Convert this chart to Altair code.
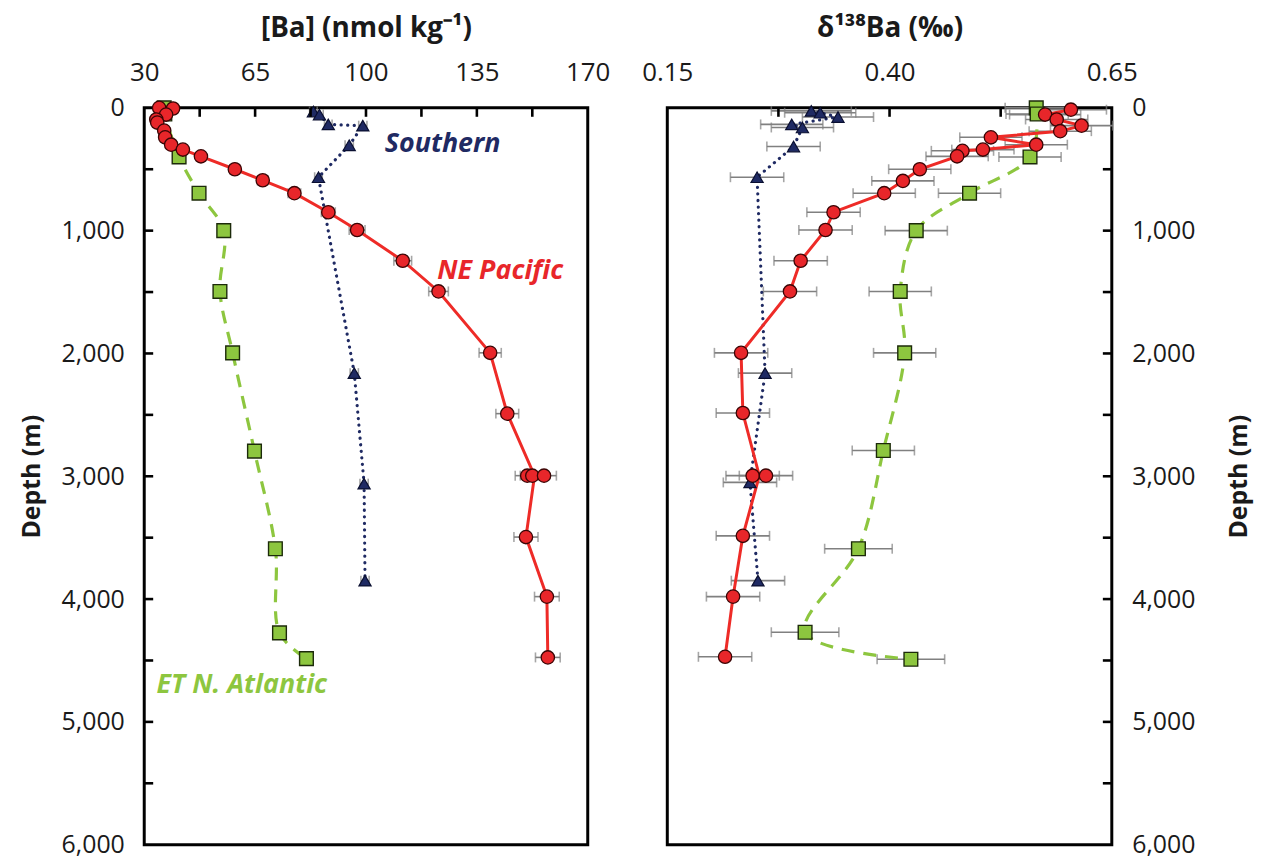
import altair as alt
import pandas as pd

# ---------------- left panel: [Ba] (nmol kg-1) ----------------
pac_depth_a = [0, 5, 55, 95, 120, 185, 240, 300, 340, 395, 500, 590, 695, 850, 995, 1245,
               1495, 1995, 2490, 2995, 2995, 2995, 3495, 3980, 4475]
pac_ba = [34.7, 39.1, 36.9, 33.8, 34.1, 36.3, 36.6, 38.5, 42.2, 47.9, 58.6, 67.4, 77.4, 88.1,
          97.2, 111.6, 122.9, 139.2, 144.6, 150.9, 152.5, 156.2, 150.5, 157.1, 157.4]
pac_ba_err = [0.9, 1.0, 0.9, 0.9, 0.9, 0.9, 0.9, 1.0, 1.1, 1.2, 1.5, 1.7, 2.0, 2.2, 2.5, 2.8,
              3.1, 3.5, 3.6, 3.8, 3.8, 3.9, 3.8, 3.9, 3.9]

sou_depth_a = [30, 55, 135, 145, 305, 565, 2160, 3060, 3850]
sou_ba = [83.4, 85.3, 88.1, 99.0, 94.7, 85.0, 96.3, 99.4, 99.7]
sou_ba_err = [1.2, 1.2, 1.2, 1.3, 1.3, 1.2, 1.3, 1.3, 1.3]

atl_depth_a = [0, 50, 400, 695, 1000, 1495, 1995, 2795, 3590, 4275, 4485]
atl_ba = [36.3, 36.5, 41.0, 47.3, 55.1, 53.9, 57.9, 64.8, 71.4, 72.7, 81.2]
atl_ba_err = [0.5, 0.5, 0.6, 0.7, 0.8, 0.8, 0.9, 1.0, 1.1, 1.1, 1.2]

# ---------------- right panel: d138Ba (permil) ----------------
pac_depth_d = [15, 55, 95, 145, 190, 240, 300, 340, 350, 395, 500, 595, 695, 850, 995, 1245,
               1495, 1995, 2485, 2995, 2995, 3485, 3980, 4470]
pac_d138 = [0.604, 0.575, 0.588, 0.616, 0.592, 0.514, 0.565, 0.505, 0.482, 0.476, 0.434, 0.415,
            0.394, 0.337, 0.328, 0.300, 0.288, 0.233, 0.235, 0.246, 0.261, 0.235, 0.224, 0.215]
pac_d138_err = [0.04, 0.04, 0.035, 0.035, 0.035, 0.035, 0.035, 0.035, 0.035, 0.035, 0.035, 0.035,
                0.035, 0.03, 0.03, 0.03, 0.03, 0.03, 0.03, 0.03, 0.03, 0.03, 0.03, 0.03]

sou_depth_d = [25, 40, 75, 135, 160, 315, 565, 2160, 3050, 3850]
sou_d138 = [0.312, 0.322, 0.342, 0.290, 0.302, 0.292, 0.251, 0.260, 0.243, 0.252]
sou_d138_err = [0.045, 0.04, 0.04, 0.035, 0.035, 0.03, 0.03, 0.03, 0.03, 0.03]

atl_depth_d = [0, 50, 400, 695, 1000, 1495, 1995, 2790, 3590, 4270, 4490]
atl_d138 = [0.565, 0.566, 0.558, 0.490, 0.430, 0.412, 0.417, 0.393, 0.365, 0.305, 0.424]
atl_d138_err = [0.035, 0.035, 0.035, 0.035, 0.035, 0.035, 0.035, 0.035, 0.038, 0.038, 0.038]

# ---------------- axes ----------------
ba_labels = [30, 65, 100, 135, 170]
ba_minor = [47.5, 65, 82.5, 100, 117.5, 135, 152.5]
d138_labels = [0.15, 0.40, 0.65]
d138_minor = [0.275, 0.40, 0.525]
depth_labels = [0, 1000, 2000, 3000, 4000, 5000, 6000]
depth_minor = [500, 1000, 1500, 2000, 2500, 3000, 3500, 4000, 4500, 5000, 5500]

annot_text = ["Southern", "NE Pacific", "ET N. Atlantic"]
annot_ba = [124.2, 142.4, 60.8]
annot_depth = [298, 1331, 4702]
annot_color = ["#1f2a63", "#e8262a", "#8dc63f"]

RED, RED_EDGE = "#e8262a", "#3a0505"
NAVY, NAVY_EDGE = "#1f2a63", "#0a0f30"
GREEN, GREEN_EDGE = "#8dc63f", "#1c2a0a"
GRAY = "#808080"
FONT = "Open Sans"
W_L, W_R, H = 446, 447, 741


def make_df(depth, val, err):
    return pd.DataFrame({
        "depth": depth, "val": val,
        "lo": [v - e for v, e in zip(val, err)],
        "hi": [v + e for v, e in zip(val, err)],
    })


def caps_df(df):
    return pd.concat([
        pd.DataFrame({"depth": df.depth, "cap": df.lo}),
        pd.DataFrame({"depth": df.depth, "cap": df.hi}),
    ])


def panel(pac, sou, atl, xdomain, xlabels, xminor, xfmt, xtitle, yorient, width, annot=None):
    xscale = alt.Scale(domain=xdomain, nice=False, zero=False)
    xaxis = alt.Axis(orient="top", values=xlabels, format=xfmt, title=xtitle, ticks=False,
                     domain=False, grid=False, labelFlush=False, labelOverlap=False,
                     labelPadding=22, titlePadding=18, titleFontSize=28)
    yscale = alt.Scale(domain=[0, 6000], reverse=True, nice=False, zero=False)
    if yorient == "left":
        yaxis = alt.Axis(orient="left", values=depth_labels, format=",.0f", title="Depth (m)",
                         ticks=False, domain=False, grid=False, labelPadding=20,
                         titlePadding=17, labelOverlap=False, labelFontSize=25,
                         titleFontSize=25)
    else:
        yaxis = alt.Axis(orient="right", values=depth_labels, format=",.0f", title="Depth (m)",
                         ticks=False, domain=False, grid=False, labelPadding=20,
                         titlePadding=32, titleAngle=270, titleBaseline="top",
                         labelOverlap=False, labelFontSize=25, titleFontSize=25)

    def X(f):
        return alt.X(f, type="quantitative", scale=xscale, axis=xaxis)

    Y = alt.Y("depth:Q", scale=yscale, axis=yaxis)

    layers = []
    # error bars
    for df in (atl, sou, pac):
        layers.append(alt.Chart(df).mark_rule(color=GRAY, strokeWidth=1.6).encode(
            x=X("lo"), x2="hi:Q", y=Y))
        layers.append(alt.Chart(caps_df(df)).mark_tick(
            orient="vertical", size=10, thickness=1.6, color=GRAY).encode(x=X("cap"), y=Y))
    # lines
    layers.append(alt.Chart(atl).mark_line(
        color=GREEN, strokeWidth=3.2, strokeDash=[13, 9], interpolate="catmull-rom"
    ).encode(x=X("val"), y=Y, order="depth:Q"))
    layers.append(alt.Chart(sou).mark_line(
        color=NAVY, strokeWidth=3.2, strokeDash=[0.1, 6.5], strokeCap="round"
    ).encode(x=X("val"), y=Y, order="depth:Q"))
    layers.append(alt.Chart(pac).transform_aggregate(
        val="mean(val)", groupby=["depth"]
    ).mark_line(color="#ee2b27", strokeWidth=3).encode(x=X("val"), y=Y, order="depth:Q"))
    # points
    layers.append(alt.Chart(atl).mark_point(
        shape="square", size=190, filled=True, fill=GREEN, stroke=GREEN_EDGE,
        strokeWidth=1.4, opacity=1).encode(x=X("val"), y=Y))
    layers.append(alt.Chart(sou).mark_point(
        shape="triangle-up", size=150, filled=True, fill=NAVY, stroke=NAVY_EDGE,
        strokeWidth=1.2, opacity=1).encode(x=X("val"), y=Y))
    layers.append(alt.Chart(pac).mark_point(
        shape="circle", size=180, filled=True, fill=RED, stroke=RED_EDGE,
        strokeWidth=1.3, opacity=1).encode(x=X("val"), y=Y))
    # inward ticks
    layers.append(alt.Chart(pd.DataFrame({"val": xminor})).mark_rule(
        color="black", strokeWidth=2.6).encode(x=X("val"), y=alt.value(0), y2=alt.value(9)))
    if yorient == "left":
        layers.append(alt.Chart(pd.DataFrame({"depth": depth_minor})).mark_rule(
            color="black", strokeWidth=2.6).encode(y=Y, x=alt.value(0), x2=alt.value(9)))
    else:
        layers.append(alt.Chart(pd.DataFrame({"depth": depth_minor})).mark_rule(
            color="black", strokeWidth=2.6).encode(y=Y, x=alt.value(width - 9), x2=alt.value(width)))
    if annot is not None:
        layers.append(alt.Chart(annot).mark_text(
            font=FONT, fontSize=27, fontWeight="bold", fontStyle="italic"
        ).encode(x=X("val"), y=Y, text="label:N", color=alt.Color("color:N", scale=None)))
    return alt.layer(*layers).properties(width=width, height=H)


annot_df = pd.DataFrame({"label": annot_text, "val": annot_ba, "depth": annot_depth,
                         "color": annot_color})

left = panel(make_df(pac_depth_a, pac_ba, pac_ba_err),
             make_df(sou_depth_a, sou_ba, sou_ba_err),
             make_df(atl_depth_a, atl_ba, atl_ba_err),
             [30, 170], ba_labels, ba_minor, "d", "[Ba] (nmol kg⁻¹)", "left", W_L, annot_df)

right = panel(make_df(pac_depth_d, pac_d138, pac_d138_err),
              make_df(sou_depth_d, sou_d138, sou_d138_err),
              make_df(atl_depth_d, atl_d138, atl_d138_err),
              [0.15, 0.65], d138_labels, d138_minor, ".2f", "δ¹³⁸Ba (‰)", "right", W_R)

chart = alt.hconcat(left, right, spacing=80, bounds="flush").resolve_scale(
    x="independent"
).properties(
    padding={"left": 9, "top": 2, "right": 0, "bottom": 0}
).configure_view(
    stroke="black", strokeWidth=3
).configure_axis(
    labelFont=FONT, labelFontSize=26, labelColor="#1a1a1a",
    titleFont=FONT, titleFontSize=26, titleFontWeight="bold", titleColor="#1a1a1a"
)

chart.save("out.html", embed_options={"renderer": "svg", "actions": False})
